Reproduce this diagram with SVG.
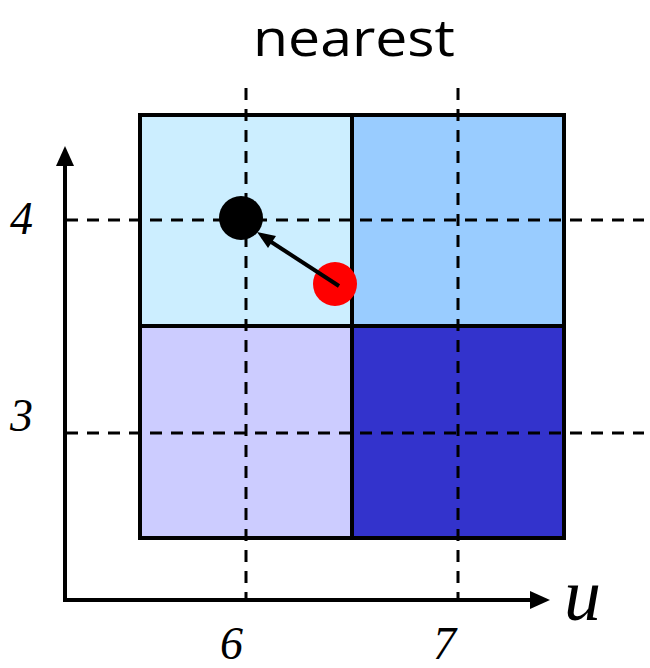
<svg xmlns="http://www.w3.org/2000/svg" width="650" height="668" viewBox="0 0 650 668">
<style>
.cell{stroke:#000;stroke-width:4}
.dash{stroke:#000;stroke-width:3;stroke-dasharray:12 9;fill:none}
.axis{stroke:#000;stroke-width:4;fill:none}
.num{font-family:"Liberation Serif",serif;font-style:italic;font-size:46px;fill:#000}
</style>
<rect width="650" height="668" fill="#fff"/>
<text x="253" y="56" textLength="202" lengthAdjust="spacingAndGlyphs" font-family="'Open Sans','Noto Sans',sans-serif" font-size="52" fill="#000">nearest</text>
<g id="cells">
<rect id="c00" class="cell" x="140" y="115" width="212" height="211" fill="#CCEEFF"/>
<rect id="c10" class="cell" x="352" y="115" width="212" height="211" fill="#99CCFF"/>
<rect id="c01" class="cell" x="140" y="326" width="212" height="212" fill="#CCCCFF"/>
<rect id="c11" class="cell" x="352" y="326" width="212" height="212" fill="#3333CC"/>
</g>
<g id="gridlines">
<line class="dash" x1="246" y1="88" x2="246" y2="598"/>
<line class="dash" x1="458" y1="88" x2="458" y2="598"/>
<line class="dash" x1="66" y1="220" x2="644" y2="220"/>
<line class="dash" x1="66" y1="433" x2="644" y2="433"/>
</g>
<g id="axes">
<polyline class="axis" points="65,166 65,600 532,600"/>
<polygon points="65,146 56,166 74,166" fill="#000"/>
<polygon points="550,600 530,591 530,609" fill="#000"/>
</g>
<g id="labels">
<text class="num" x="10" y="234">4</text>
<text class="num" x="10" y="431">3</text>
<text class="num" x="220" y="659">6</text>
<text class="num" x="433" y="659">7</text>
<text class="num" x="564" y="620" style="font-size:74px">u</text>
</g>
<g id="black-point"><circle cx="241" cy="218" r="22" fill="#000"/></g>
<g id="red-point"><circle cx="335" cy="284" r="22" fill="#FF0000"/></g>
<g id="connectors">
<line x1="339" y1="286" x2="262" y2="236" stroke="#000" stroke-width="4"/>
<polygon points="257,232 276,236 268,248" fill="#000"/>
</g>
</svg>
